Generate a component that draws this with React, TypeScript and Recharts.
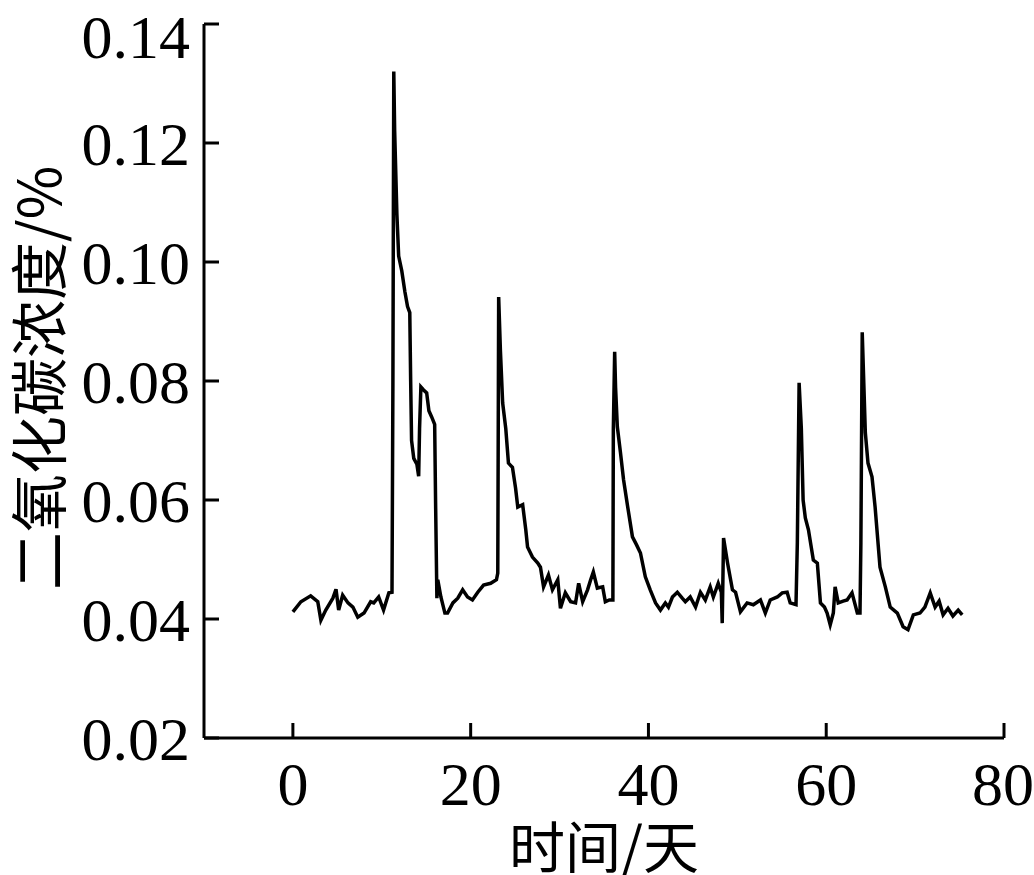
import { LineChart, Line, XAxis, YAxis } from 'recharts';

// 时间（天）
const days = [
  0, 0.9, 2.0, 2.8, 3.15, 3.7, 4.5, 4.85, 5.15, 5.6, 6.2, 6.75, 7.3, 8.0, 8.75, 9.1, 9.65, 10.2, 10.8, 11.15,
  11.25, 11.35, 11.45, 11.7, 11.9, 12.25, 12.6, 12.9, 13.15, 13.25, 13.35, 13.6, 13.95, 14.15, 14.25, 14.4,
  14.7, 15.05, 15.3, 15.6, 15.95, 16.05, 16.2, 16.3, 16.65, 17.1, 17.4, 18.0, 18.55, 19.1, 19.65, 20.2, 20.8,
  21.45, 22.25, 22.9, 23.05, 23.15, 23.35, 23.6, 23.95, 24.25, 24.7, 25.05, 25.3, 25.85, 26.2, 26.4, 26.95,
  27.55, 27.85, 28.2, 28.75, 29.2, 29.8, 30.1, 30.65, 31.25, 31.8, 32.15, 32.6, 33.15, 33.5, 33.8, 34.25,
  34.85, 35.15, 35.6, 36.0, 36.05, 36.2, 36.3, 36.5, 36.85, 37.2, 37.65, 38.2, 38.65, 39.1, 39.65, 40.2,
  40.8, 41.35, 41.9, 42.25, 42.7, 43.25, 43.8, 44.15, 44.7, 45.3, 45.85, 46.4, 46.95, 47.3, 47.85, 48.2,
  48.3, 48.45, 48.9, 49.45, 49.8, 50.35, 51.1, 51.8, 52.6, 53.15, 53.7, 54.5, 55.05, 55.6, 55.95, 56.6,
  56.75, 56.95, 57.2, 57.4, 57.65, 58.0, 58.55, 59.0, 59.35, 59.8, 60.1, 60.45, 60.8, 61.0, 61.35, 61.9,
  62.35, 62.9, 63.5, 63.8, 63.9, 64.05, 64.4, 64.7, 65.15, 65.5, 66.05, 66.65, 67.2, 68.0, 68.65, 69.2,
  69.8, 70.55, 71.1, 71.7, 72.25, 72.7, 73.15, 73.7, 74.25, 74.85, 75.3,
];

// 二氧化碳浓度（%）
const co2 = [
  0.0412, 0.0429, 0.0439, 0.0429, 0.0398, 0.0415, 0.0435, 0.0450, 0.0415, 0.0440, 0.0427, 0.0420, 0.0403, 0.0410, 0.0429, 0.0427, 0.0437, 0.0415, 0.0444, 0.0445,
  0.0790, 0.1320, 0.1220, 0.1080, 0.1010, 0.0985, 0.0950, 0.0925, 0.0915, 0.0800, 0.0700, 0.0670, 0.0660, 0.0640, 0.0720, 0.0790,
  0.0785, 0.0780, 0.0750, 0.0740, 0.0727, 0.0600, 0.0435, 0.0466, 0.0437, 0.0410, 0.0410, 0.0427, 0.0435, 0.0449, 0.0437, 0.0432, 0.0445,
  0.0457, 0.0460, 0.0466, 0.0477, 0.0941, 0.0850, 0.0763, 0.0720, 0.0662, 0.0655, 0.0620, 0.0588, 0.0592, 0.0550, 0.0521, 0.0504,
  0.0494, 0.0487, 0.0454, 0.0474, 0.0449, 0.0466, 0.0418, 0.0444, 0.0429, 0.0427, 0.0460, 0.0429, 0.0449, 0.0466, 0.0479, 0.0452,
  0.0454, 0.0429, 0.0432, 0.0432, 0.0718, 0.0849, 0.0790, 0.0723, 0.0680, 0.0634, 0.0590, 0.0538, 0.0525, 0.0511, 0.0471, 0.0449,
  0.0427, 0.0415, 0.0427, 0.0420, 0.0437, 0.0445, 0.0435, 0.0429, 0.0437, 0.0420, 0.0445, 0.0432, 0.0454, 0.0437, 0.0460, 0.0445,
  0.0393, 0.0536, 0.0494, 0.0449, 0.0445, 0.0412, 0.0427, 0.0424, 0.0432, 0.0410, 0.0432, 0.0437, 0.0444, 0.0445, 0.0427, 0.0424,
  0.0528, 0.0797, 0.0720, 0.0600, 0.0570, 0.0550, 0.0499, 0.0494, 0.0427, 0.0420, 0.0410, 0.0390, 0.0410, 0.0454, 0.0427, 0.0430,
  0.0432, 0.0444, 0.0410, 0.0410, 0.0528, 0.0882, 0.0713, 0.0662, 0.0639, 0.0588, 0.0487, 0.0454, 0.0420, 0.0410, 0.0387, 0.0382,
  0.0407, 0.0410, 0.0420, 0.0444, 0.0420, 0.0430, 0.0407, 0.0418, 0.0405, 0.0415, 0.0407,
];

const xTicks = [0, 20, 40, 60, 80];
const yTicks = [0.02, 0.04, 0.06, 0.08, 0.1, 0.12, 0.14];
const xTitle = '时间/天';
const yTitle = '二氧化碳浓度/%';

const data = days.map((d, i) => ({ day: d, co2: co2[i] }));

const SERIF = '"Liberation Serif", "DejaVu Serif", serif';
const CJK = '"Noto Sans CJK SC", "Liberation Serif", serif';

const YTitle = ({ viewBox }: any) => {
  const cx = viewBox.x + 36;
  const cy = viewBox.y + viewBox.height / 2 - 3;
  return (
    <text x={cx} y={cy} transform={`rotate(-90, ${cx}, ${cy})`} textAnchor="middle" dominantBaseline="central"
      fontSize={58} fontFamily={CJK} fill="#000">{yTitle}</text>
  );
};

const XTitle = ({ viewBox }: any) => {
  const cx = viewBox.x + viewBox.width / 2;
  const cy = viewBox.y + 105;
  return (
    <text x={cx} y={cy} textAnchor="middle" dominantBaseline="central" fontSize={56} fontFamily={CJK} fill="#000">{xTitle}</text>
  );
};

export default function App() {
  const axisStyle = { stroke: '#000', strokeWidth: 3 };
  const tickStyle = { fontSize: 62, fill: '#000', fontFamily: SERIF };
  return (
    <div style={{ position: 'absolute', left: 0, top: 0, width: 1034, height: 875, background: '#fff' }}>
      <LineChart width={1034} height={875} data={data} margin={{ top: 24, right: 30, bottom: 0, left: 0 }}>
        <XAxis
          type="number"
          dataKey="day"
          domain={[-10, 80]}
          ticks={xTicks}
          height={137}
          tickSize={-15}
          tickMargin={38}
          axisLine={axisStyle}
          tickLine={axisStyle}
          tick={tickStyle}
          label={{ value: xTitle, content: XTitle }}
        />
        <YAxis
          type="number"
          domain={[0.02, 0.14]}
          ticks={yTicks}
          width={204}
          tickSize={-15}
          tickMargin={29}
          tickFormatter={(v: number) => v.toFixed(2)}
          axisLine={axisStyle}
          tickLine={axisStyle}
          tick={tickStyle}
          label={{ value: yTitle, content: YTitle }}
        />
        <Line
          type="linear"
          dataKey="co2"
          stroke="#000"
          strokeWidth={3.5}
          dot={false}
          activeDot={false}
          isAnimationActive={false}
        />
      </LineChart>
    </div>
  );
}
